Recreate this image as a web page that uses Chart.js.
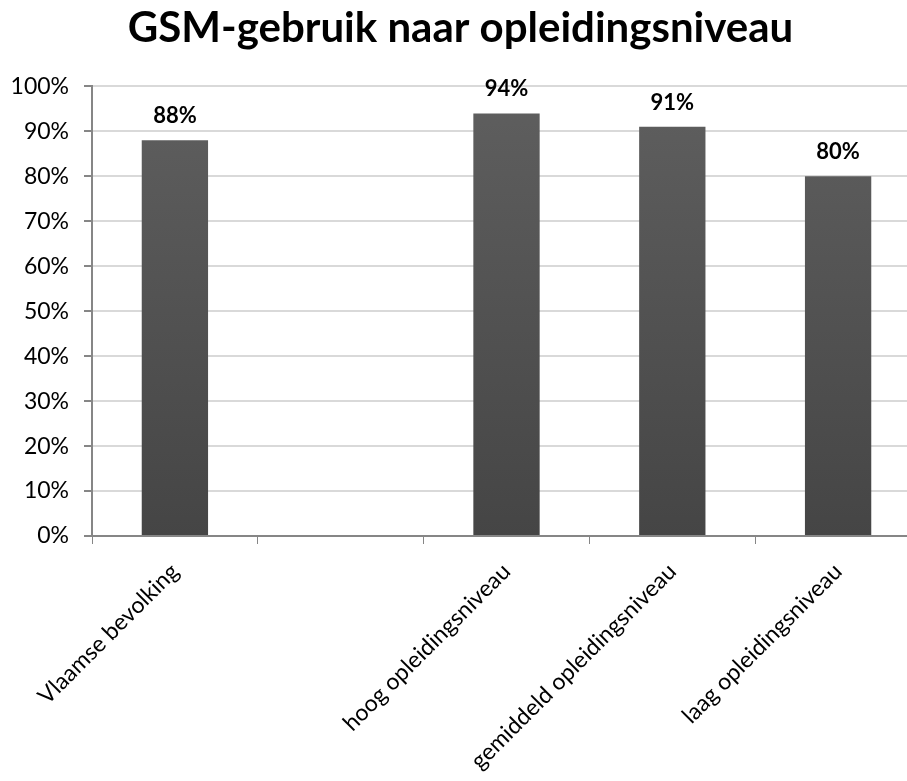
<!DOCTYPE html>
<html>
<head>
<meta charset="utf-8">
<script src="https://cdn.jsdelivr.net/npm/chart.js@4"></script>
<style>
  html, body { margin: 0; padding: 0; background: #fff; overflow: hidden; }
  #wrap { width: 924px; height: 781px; }
</style>
</head>
<body>
<div id="wrap"><canvas id="myChart"></canvas></div>
<script>
const categories = [
  "Vlaamse bevolking",
  "",
  "hoog opleidingsniveau",
  "gemiddeld opleidingsniveau",
  "laag opleidingsniveau",
];
const gsmUse = [88, null, 94, 91, 80];
const yTicks = [0, 10, 20, 30, 40, 50, 60, 70, 80, 90, 100];

const fontFamily = "Lato, 'Open Sans', sans-serif";

// labels above the bars
const valueLabels = {
  id: "valueLabels",
  afterDatasetsDraw(chart) {
    const ctx = chart.ctx;
    const meta = chart.getDatasetMeta(0);
    ctx.save();
    ctx.font = "bold 22px " + fontFamily;
    ctx.fillStyle = "#000";
    ctx.textAlign = "center";
    ctx.textBaseline = "middle";
    meta.data.forEach((bar, i) => {
      const v = gsmUse[i];
      if (v === null) return;
      ctx.fillText(v + "%", bar.x, bar.y - 24);
    });
    ctx.restore();
  },
};

function barGradient(context) {
  const chart = context.chart;
  const area = chart.chartArea;
  if (!area) return "#555";
  const g = chart.ctx.createLinearGradient(0, area.top, 0, area.bottom);
  g.addColorStop(0, "#5f5f5f");
  g.addColorStop(1, "#454545");
  return g;
}

const ctx = document.getElementById("myChart").getContext("2d");

const myChart = new Chart(ctx, {
  type: "bar",
  data: {
    labels: categories,
    datasets: [
      {
        label: "GSM-gebruik",
        data: gsmUse,
        backgroundColor: barGradient,
        borderWidth: 0,
        barPercentage: 0.4,
        categoryPercentage: 1,
      },
    ],
  },
  options: {
    responsive: true,
    maintainAspectRatio: false,
    animation: false,
    layout: { padding: { top: 0, right: 3, left: 0, bottom: 0 } },
    plugins: {
      legend: { display: false },
      tooltip: { enabled: false },
      title: {
        display: true,
        text: "GSM-gebruik naar opleidingsniveau",
        color: "#000",
        font: { family: fontFamily, size: 42, weight: "bold" },
        padding: { top: 3, bottom: 33 },
        // keep centred on the visible window, not the wider canvas
        align: "center",
      },
    },
    scales: {
      x: {
        grid: {
          display: true,
          drawOnChartArea: false,
          drawTicks: true,
          tickLength: 8,
          tickColor: "#868686",
          offset: true,
        },
        border: { color: "#868686", width: 2 },
        ticks: {
          color: "#000",
          font: { family: fontFamily, size: 23 },
          maxRotation: 45,
          minRotation: 45,
          autoSkip: false,
          padding: 14,
        },
        afterFit(axis) {
          axis.height = 245;
        },
      },
      y: {
        min: 0,
        max: 100,
        afterBuildTicks(axis) {
          axis.ticks = yTicks.map((v) => ({ value: v }));
        },
        grid: {
          color: "#d9d9d9",
          lineWidth: 2,
          tickLength: 8,
          tickColor: "#868686",
        },
        border: { color: "#868686", width: 2 },
        ticks: {
          color: "#000",
          font: { family: fontFamily, size: 23 },
          padding: 15,
          callback: (v) => v + "%",
        },
        afterFit(axis) {
          axis.width = 92;
        },
      },
    },
  },
  plugins: [valueLabels],
});
</script>
</body>
</html>
